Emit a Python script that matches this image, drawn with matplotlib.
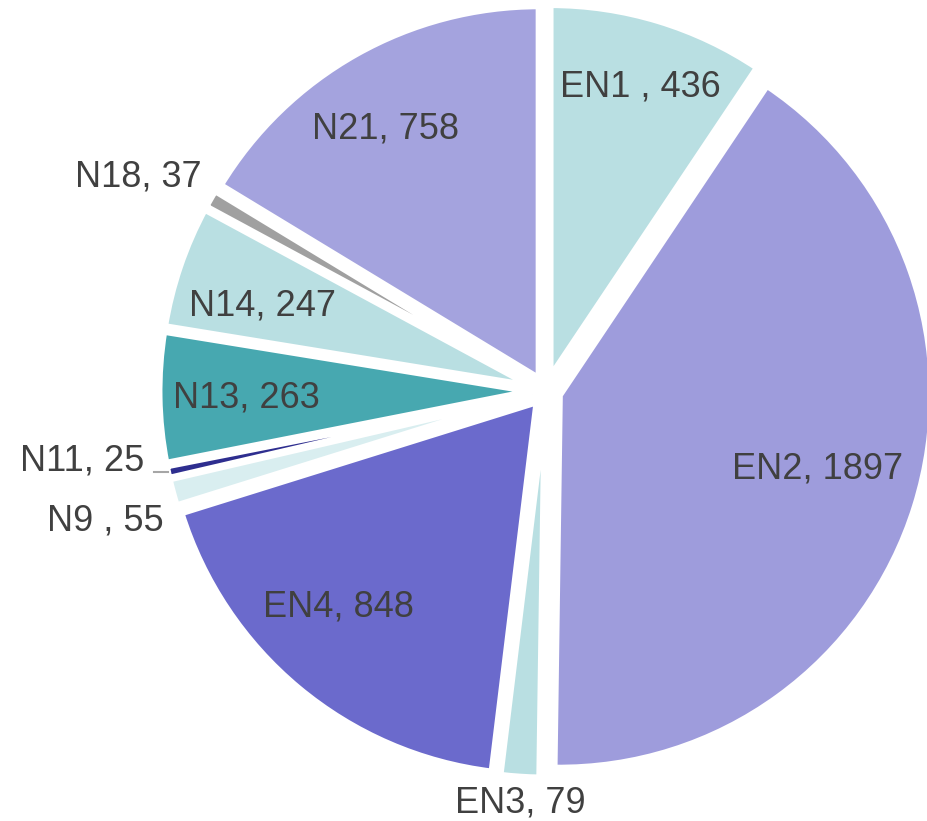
import numpy as np
import matplotlib.pyplot as plt

labels = ['EN1 ', 'EN2', 'EN3', 'EN4', 'N9 ', 'N11', 'N13', 'N14', 'N18', 'N21']
values = [436, 1897, 79, 848, 55, 25, 263, 247, 37, 758]
colors = ['#b9dfe2', '#9e9cdc', '#b9dfe2', '#6b6acc', '#d9eef0',
          '#2e2e8f', '#47a8b0', '#b9dfe2', '#a0a0a0', '#a4a3de']
# label placement: fraction of radius and angle shift (deg) from wedge middle
label_r = [0.853, 0.757, 1.107, 0.804, 1.232, 1.0, 0.804, 0.794, 1.234, 0.824]
label_dt = [-0.3, 1.2, 0.3, -4.1, 1.2, 0, 0.3, 2.2, 2.1, 2.1]

plt.rcParams['font.family'] = ['Liberation Sans', 'DejaVu Sans']

fig = plt.figure(figsize=(9.28, 8.21), dpi=100)
ax = fig.add_axes([0, 0, 1, 1])

# axes units are pixels, so explode is an offset in pixels
cx, cy, R = 546, 430, 373
wedges, _ = ax.pie(values, colors=colors, startangle=90, counterclock=False,
                   explode=[14] * len(values), center=(cx, cy), radius=R,
                   wedgeprops=dict(edgecolor='white', linewidth=5))

for w, lab, v, fr, dt in zip(wedges, labels, values, label_r, label_dt):
    ang = np.deg2rad((w.theta1 + w.theta2) / 2 + dt)
    x = cx + R * fr * np.cos(ang)
    y = cy + R * fr * np.sin(ang)
    if lab == 'N11':
        # short leader line to the thin slice
        x0 = cx + R * 1.037 * np.cos(ang)
        y0 = cy + R * 1.037 * np.sin(ang)
        ax.plot([x0 - 14, x0], [y0, y0], color='#a6a6a6', lw=1.5)
        x = x0 - 86
        y = y0 + 11
    ax.text(x, y, f'{lab}, {v}', ha='center', va='center',
            fontsize=26, color='#404040')

ax.set_xlim(0, 928)
ax.set_ylim(0, 821)
ax.set_aspect('auto')
ax.axis('off')

plt.savefig('out.png')
plt.close()
